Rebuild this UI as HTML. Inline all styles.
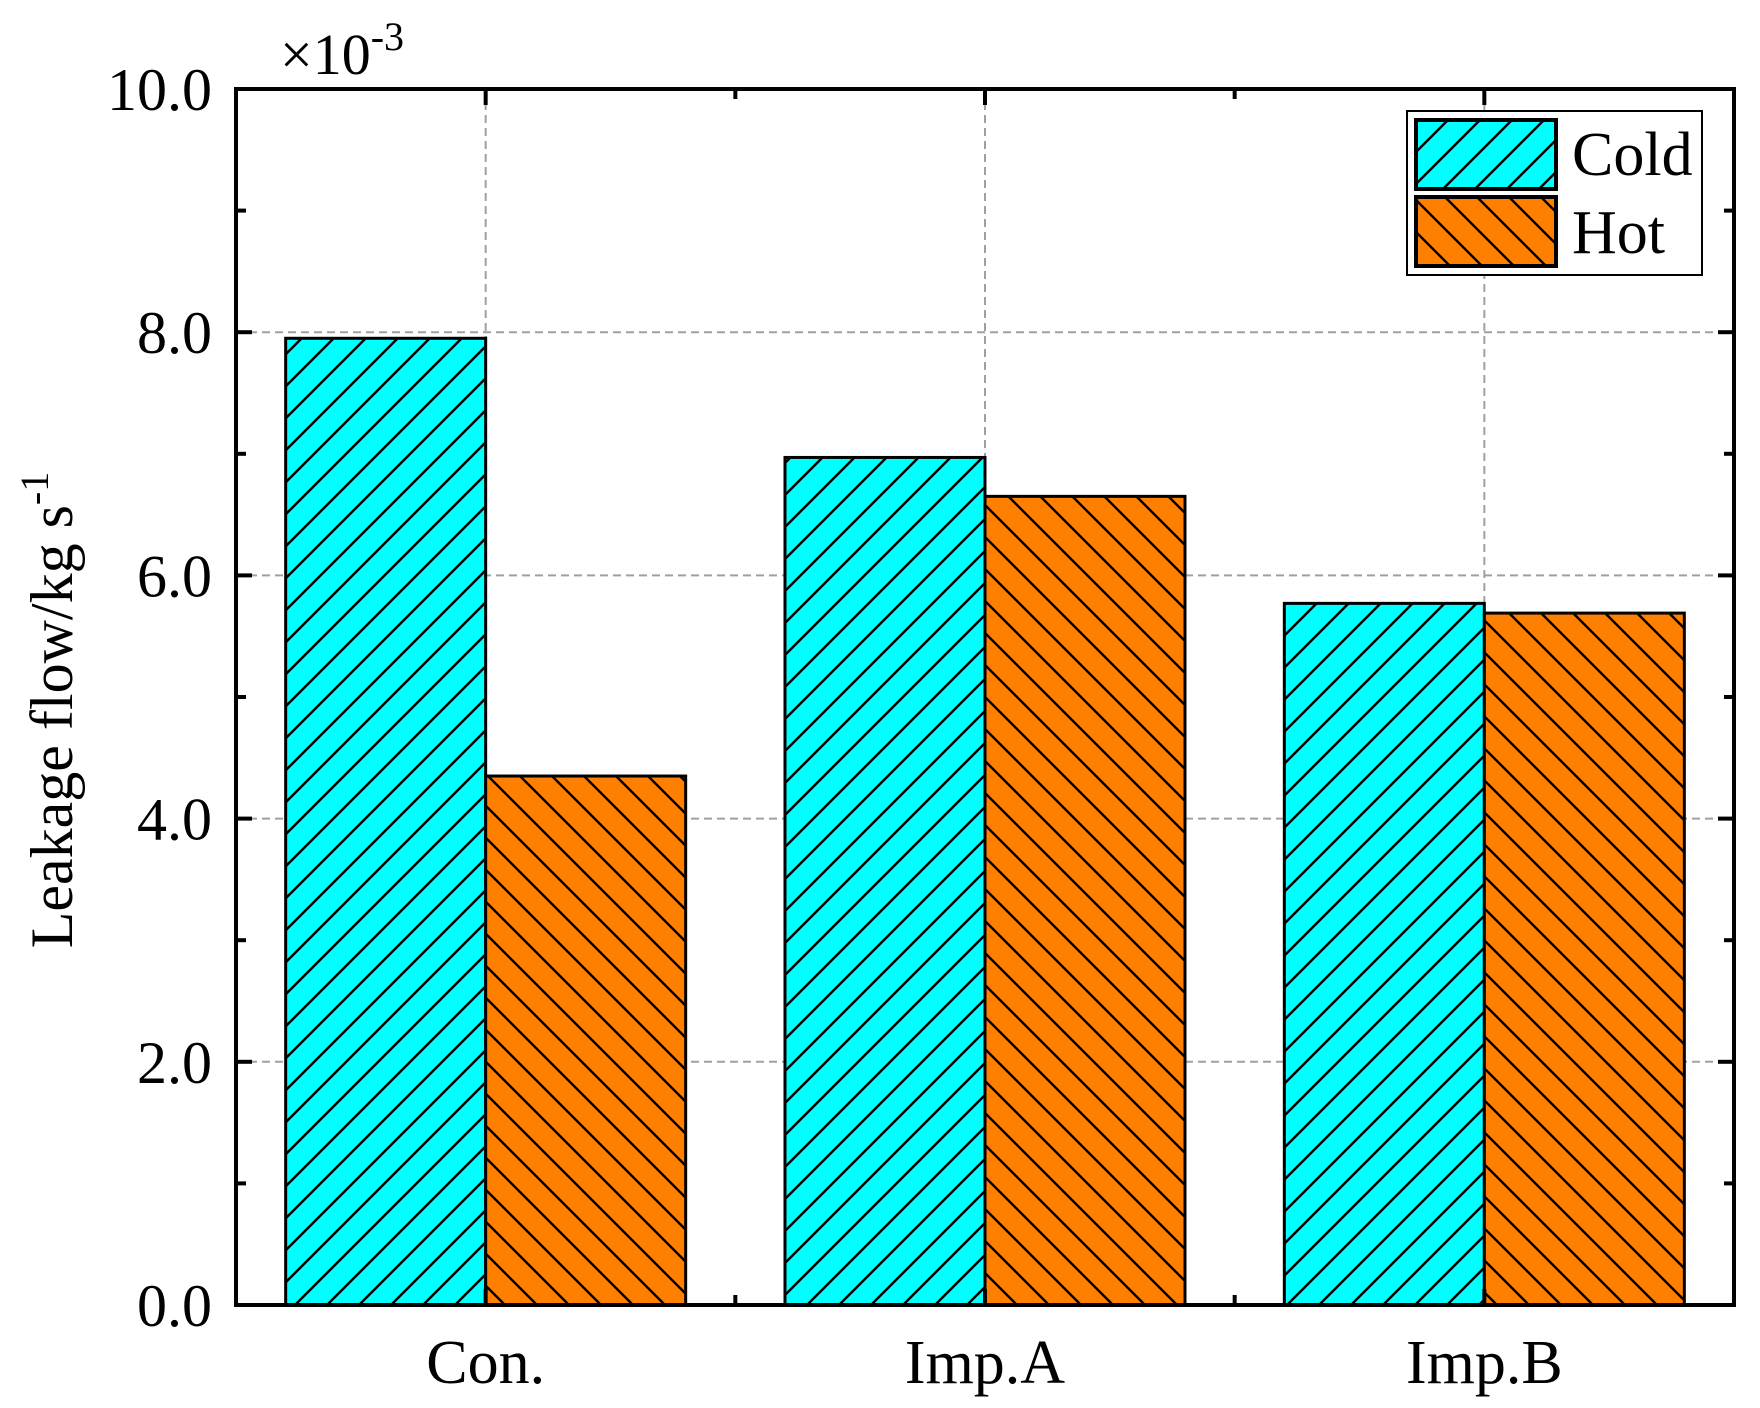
<!DOCTYPE html>
<html><head><meta charset="utf-8"><style>
html,body{margin:0;padding:0;background:#fff;}
svg{display:block;font-family:"Liberation Serif",serif;}
</style></head><body>
<svg id="chart" width="1760" height="1408" viewBox="0 0 1760 1408">
<defs>
<pattern id="hatchCold" patternUnits="userSpaceOnUse" width="32" height="32">
<rect width="32" height="32" fill="#00ffff"/>
<path d="M-8,8 L8,-8 M0,32 L32,0 M24,40 L40,24" stroke="#000" stroke-width="2.4"/>
</pattern>
<pattern id="hatchHot" patternUnits="userSpaceOnUse" width="32" height="32">
<rect width="32" height="32" fill="#ff8000"/>
<path d="M-8,24 L8,40 M0,0 L32,32 M24,-8 L40,8" stroke="#000" stroke-width="2.4"/>
</pattern>
</defs>
<g id="grid"></g>
<g id="bars"></g>
<g id="axes"></g>
<text x="280" y="74" font-size="58">×10<tspan dy="-24" font-size="40">-3</tspan></text>
<text transform="translate(72,710) rotate(-90)" text-anchor="middle" font-size="60">Leakage flow/kg s<tspan dy="-24" font-size="40">-1</tspan></text>
<g>
<rect x="1407" y="111" width="295" height="164" fill="#fff" stroke="#000" stroke-width="2"/>
<rect x="1416" y="120" width="140" height="69" fill="url(#hatchCold)" stroke="#000" stroke-width="4"/>
<rect x="1416" y="197" width="140" height="69" fill="url(#hatchHot)" stroke="#000" stroke-width="4"/>
<text x="1572" y="175" font-size="62">Cold</text>
<text x="1572" y="253" font-size="62">Hot</text>
</g>
</svg>
<script>
const categories = ["Con.", "Imp.A", "Imp.B"];
const coldValues = [7.95, 6.97, 5.77];
const hotValues = [4.35, 6.65, 5.69];
const yTickLabels = ["0.0", "2.0", "4.0", "6.0", "8.0", "10.0"];
const yTickValues = [0, 2, 4, 6, 8, 10];

const NS = "http://www.w3.org/2000/svg";
const L = 236, R = 1734, T = 89, B = 1305;
const yMax = 10;
function yScale(v){ return B - (v / yMax) * (B - T); }
const step = (R - L) / categories.length;
function xScale(i){ return L + step * (i + 0.5); }
const barW = 200;
function mk(tag, attrs, parent){
  const e = document.createElementNS(NS, tag);
  for (const k in attrs) e.setAttribute(k, attrs[k]);
  parent.appendChild(e);
  return e;
}
const grid = document.getElementById("grid");
const bars = document.getElementById("bars");
const axes = document.getElementById("axes");

yTickValues.forEach(v => {
  if (v === 0 || v === yMax) return;
  const g = mk("line", {x1:L, x2:R, y1:yScale(v), y2:yScale(v), stroke:"#a0a0a0", "stroke-width":2, "stroke-dasharray":"8,5"}, grid);
  
  
});
categories.forEach((c, i) => {
  const g = mk("line", {x1:xScale(i), x2:xScale(i), y1:T, y2:B, stroke:"#a0a0a0", "stroke-width":2, "stroke-dasharray":"8,5"}, grid);
  
  
});

categories.forEach((c, i) => {
  const cx = xScale(i);
  const b1 = mk("rect", {x:cx - barW, y:yScale(coldValues[i]), width:barW, height:B - yScale(coldValues[i]), fill:"url(#hatchCold)", stroke:"#000", "stroke-width":3}, bars);
  
  
  const b2 = mk("rect", {x:cx, y:yScale(hotValues[i]), width:barW, height:B - yScale(hotValues[i]), fill:"url(#hatchHot)", stroke:"#000", "stroke-width":3}, bars);
  
  
  const t = mk("text", {x:cx, y:1383, "text-anchor":"middle", "font-size":62}, axes);
  t.textContent = c;
  
  
});

const frame = mk("rect", {x:L, y:T, width:R - L, height:B - T, fill:"none", stroke:"#000", "stroke-width":4}, axes);



for (let v = 0; v <= yMax; v += 1) {
  const y = yScale(v);
  const len = (v % 2 === 0) ? 16 : 10;
  const t1 = mk("line", {x1:L, x2:L + len, y1:y, y2:y, stroke:"#000", "stroke-width":4}, axes);
  
  
  const t2 = mk("line", {x1:R, x2:R - len, y1:y, y2:y, stroke:"#000", "stroke-width":4}, axes);
  
  
}
yTickValues.forEach((v, k) => {
  const t = mk("text", {x:212, y:yScale(v) + 21, "text-anchor":"end", "font-size":60}, axes);
  t.textContent = yTickLabels[k];
  
  
});
for (let k = 1; k < categories.length * 2; k++) {
  const x = L + step * k / 2;
  const len = (k % 2 === 1) ? 16 : 10;
  const a = mk("line", {x1:x, x2:x, y1:B, y2:B - len, stroke:"#000", "stroke-width":4}, axes);
  
  
  const b = mk("line", {x1:x, x2:x, y1:T, y2:T + len, stroke:"#000", "stroke-width":4}, axes);
  
  
}
</script>
</body></html>
